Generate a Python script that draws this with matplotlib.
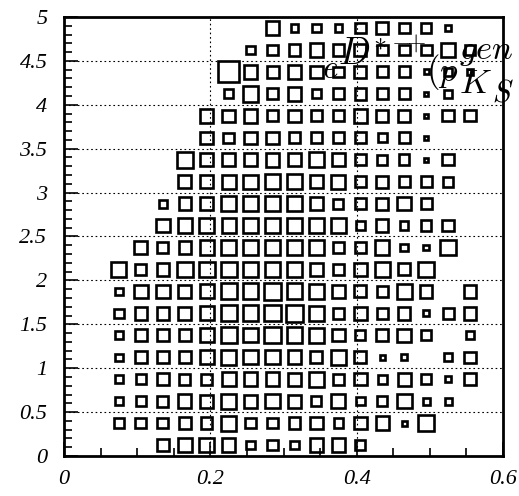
import numpy as np
import matplotlib
matplotlib.use("Agg")
import matplotlib.pyplot as plt
from matplotlib.patches import Rectangle
from matplotlib.ticker import MultipleLocator, FixedLocator, FixedFormatter

# ---- data (bin contents, rows from y-bin 0 (bottom) to 19 (top)) ----
x_range = (0.0, 0.6)
y_range = (0.0, 5.0)
n_xbins = 20
n_ybins = 20
counts = [
    [0,0,0,0,32,42,46,38,15,24,14,36,36,20,0,0,0,0,0,0],
    [0,0,18,24,24,32,27,46,24,24,27,32,18,32,38,5,50,0,0,0],
    [0,0,15,23,24,38,34,47,35,41,34,21,41,15,21,44,10,10,0,0],
    [0,0,12,21,32,24,25,42,38,40,35,46,24,32,17,34,21,8,30,0],
    [0,0,11,32,32,32,42,46,42,42,38,30,49,30,5,8,0,12,26,0],
    [0,0,13,30,32,32,40,52,42,55,52,44,32,22,30,38,20,0,13,0],
    [0,0,18,32,32,35,42,52,52,55,59,49,28,32,24,32,7,24,32,0],
    [0,0,12,38,38,35,42,52,52,55,52,46,38,30,26,46,32,0,32,0],
    [0,0,46,26,32,52,52,52,52,52,44,38,23,32,44,30,52,0,0,0],
    [0,0,0,35,25,32,42,46,46,52,52,44,26,23,42,12,7,49,0,0],
    [0,0,0,0,38,42,46,42,46,52,52,42,46,18,32,15,23,27,0,0],
    [0,0,0,0,13,32,32,44,46,52,42,35,21,27,30,38,26,0,0,0],
    [0,0,0,0,0,35,32,40,42,49,44,32,40,23,31,24,24,20,0,0],
    [0,0,0,0,0,52,38,32,32,40,32,44,32,24,21,23,3,27,0,0],
    [0,0,0,0,0,0,32,22,32,32,24,24,24,27,18,24,3,0,0,0],
    [0,0,0,0,0,0,38,32,38,27,32,27,27,38,32,32,4,27,27,0],
    [0,0,0,0,0,0,0,18,52,24,38,18,24,27,24,24,4,15,0,0],
    [0,0,0,0,0,0,0,90,38,30,40,32,23,30,24,24,5,15,6,0],
    [0,0,0,0,0,0,0,0,16,24,26,38,27,30,24,24,24,38,18,0],
    [0,0,0,0,0,0,0,0,0,40,12,16,11,23,32,24,21,7,0,0],
]
full_box_count = 100.0
x_tick_values = [0.0, 0.2, 0.4, 0.6]
x_tick_labels = ["0", "0.2", "0.4", "0.6"]
y_tick_values = [0, 0.5, 1, 1.5, 2, 2.5, 3, 3.5, 4, 4.5, 5]
y_tick_labels = ["0", "0.5", "1", "1.5", "2", "2.5", "3", "3.5", "4", "4.5", "5"]

# ---- figure ----
W, H = 519, 496
fig = plt.figure(figsize=(W / 100, H / 100), dpi=100)
ax = fig.add_axes([64 / W, 1 - 456 / H, (503 - 64) / W, (456 - 17) / H])
ax.set_xlim(*x_range)
ax.set_ylim(*y_range)

cnt = np.array(counts, dtype=float)
x_edges = np.linspace(x_range[0], x_range[1], n_xbins + 1)
y_edges = np.linspace(y_range[0], y_range[1], n_ybins + 1)
bw = x_edges[1] - x_edges[0]
bh = y_edges[1] - y_edges[0]
for iy in range(n_ybins):
    for ix in range(n_xbins):
        v = cnt[iy, ix]
        if v <= 0:
            continue
        f = np.sqrt(v / full_box_count)
        xc = 0.5 * (x_edges[ix] + x_edges[ix + 1])
        yc = 0.5 * (y_edges[iy] + y_edges[iy + 1])
        ax.add_patch(Rectangle((xc - 0.5 * f * bw, yc - 0.5 * f * bh), f * bw, f * bh,
                               fill=False, edgecolor="black", linewidth=1.9, zorder=3))

# grid
ax.xaxis.set_major_locator(FixedLocator(x_tick_values))
ax.xaxis.set_major_formatter(FixedFormatter(x_tick_labels))
ax.yaxis.set_major_locator(FixedLocator(y_tick_values))
ax.yaxis.set_major_formatter(FixedFormatter(y_tick_labels))
ax.xaxis.set_minor_locator(MultipleLocator(0.05))
ax.yaxis.set_minor_locator(MultipleLocator(0.1))
for yv in y_tick_values[1:-1]:
    ax.axhline(yv, color="black", lw=0.8, ls=(0, (1.5, 2.5)), zorder=1)
for xv in x_tick_values[1:-1]:
    ax.axvline(xv, color="black", lw=0.8, ls=(0, (1.5, 2.5)), zorder=1)

ax.tick_params(which="both", direction="in", top=False, right=False, width=1.2, color="black")
ax.tick_params(which="major", length=10)
ax.tick_params(which="minor", length=5.5)
ax.tick_params(axis="x", which="major", pad=10)
ax.tick_params(axis="y", which="major", pad=12)
for lab in ax.get_xticklabels() + ax.get_yticklabels():
    lab.set_fontfamily("Liberation Serif")
    lab.set_fontstyle("italic")
    lab.set_fontsize(16)
for sp in ax.spines.values():
    sp.set_linewidth(2.0)

# overlapping latex label (pieces placed as in the reference)
plt.rcParams["mathtext.fontset"] = "cm"
def ftxt(px, py, s, size, ha="left", va="baseline"):
    fig.text(px / W, 1 - py / H, s, fontsize=size, ha=ha, va=va, color="black")

ftxt(322, 78, r"$e$", 24)
ftxt(338, 65, r"$D^{\ast-\!\!\!\!+}$", 27)
ftxt(426, 81, r"$(p$", 25)
ftxt(459, 59, r"$gen$", 25)
ftxt(459, 93, r"$K$", 25)
ftxt(492, 101, r"$S$", 22)

fig.savefig("out.png", dpi=100)
